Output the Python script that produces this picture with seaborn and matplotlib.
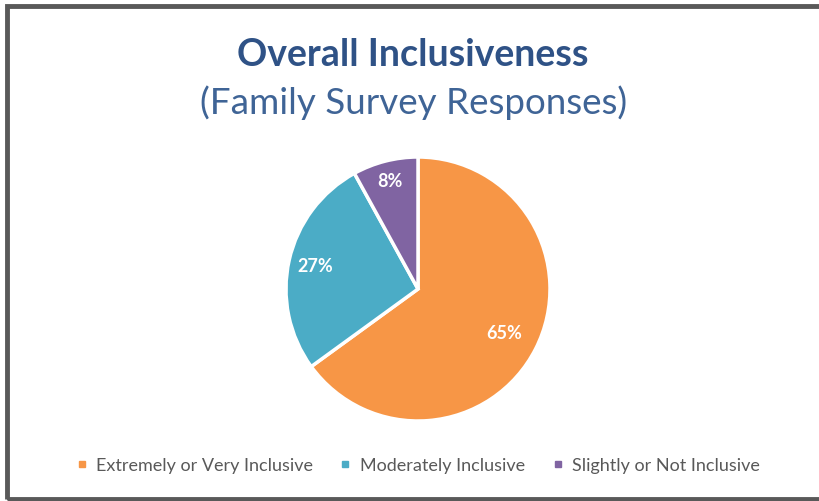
"""Overall inclusiveness pie chart (family survey responses)."""

import matplotlib
matplotlib.use("Agg")
import matplotlib.pyplot as plt
from matplotlib.lines import Line2D
from matplotlib.patches import Rectangle
import numpy as np
import seaborn as sns

# Data
categories = ["Extremely or Very Inclusive", "Moderately Inclusive", "Slightly or Not Inclusive"]
shares = [65, 27, 8]
colors = ["#F79646", "#4BACC6", "#8064A2"]
# Radial position of each percentage label (fraction of radius)
label_dist = [0.73, 0.80, 0.85]

sns.set_theme(style="white")
plt.rcParams["font.family"] = ["Lato", "DejaVu Sans"]

W, H = 819, 502
fig = plt.figure(figsize=(W / 100, H / 100), dpi=100)
fig.patch.set_facecolor("white")

# Outer frame (right edge clipped in the original)
fig.add_artist(Rectangle((7 / W, 2.5 / H), 1.2, 1 - 9.5 / H, transform=fig.transFigure,
                         fill=False, edgecolor="#595959", linewidth=3.5))

# Pie axes: centre (418, 290), radius 132 px
cx, cy, r = 418, 290, 132
ax = fig.add_axes([(cx - r) / W, (H - cy - r) / H, 2 * r / W, 2 * r / H])
wedges, _, autotexts = ax.pie(
    shares, colors=colors, startangle=90, counterclock=False,
    autopct="%d%%", pctdistance=0.75,
    wedgeprops=dict(edgecolor="white", linewidth=2.5),
    textprops=dict(color="white", fontsize=13, fontweight="bold"),
)
ax.set_xlim(-1, 1)
ax.set_ylim(-1, 1)
ax.set_aspect("auto")

# Move each percentage label to its own radial distance
for t, d in zip(autotexts, label_dist):
    x, y = t.get_position()
    n = np.hypot(x, y)
    t.set_position((x / n * d, y / n * d))

fig.text(413 / W, 1 - 55 / H, "Overall Inclusiveness", ha="center", va="center",
         fontsize=27, fontweight="bold", color="#2F5286")
fig.text(414 / W, 1 - 103 / H, "(Family Survey Responses)", ha="center", va="center",
         fontsize=26.5, color="#3F6496")

handles = [Line2D([], [], marker="s", linestyle="", markersize=5, color=c) for c in colors]
fig.legend(handles, categories, loc="center", bbox_to_anchor=(418 / W, 1 - 466 / H),
           ncol=3, frameon=False, fontsize=13, labelcolor="#595959",
           handlelength=0.6, handletextpad=0.5, columnspacing=1.5)

fig.savefig("out.png", dpi=100)
